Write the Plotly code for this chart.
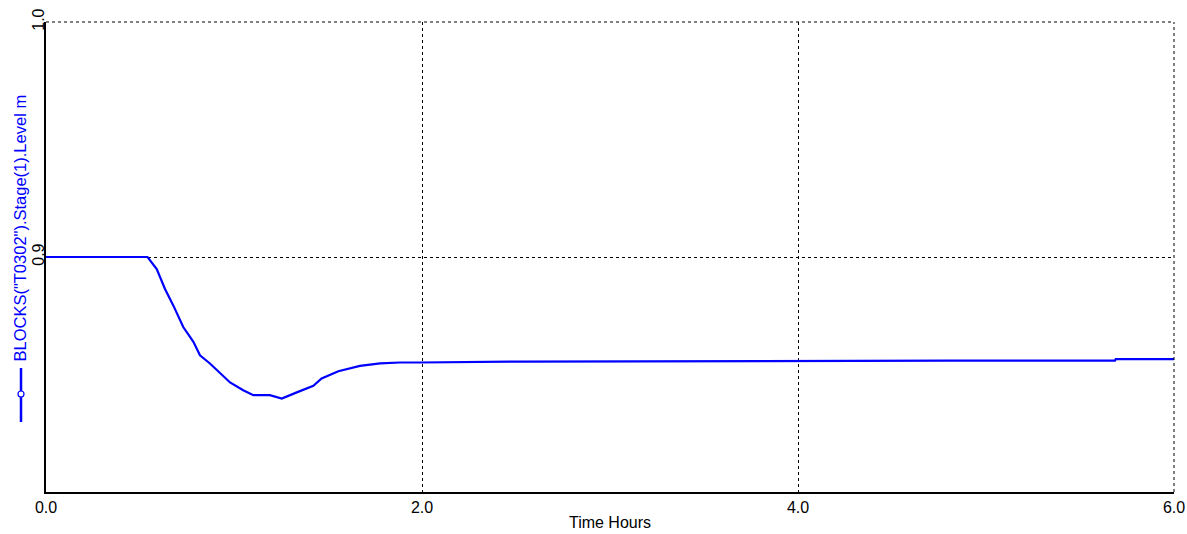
import plotly.graph_objects as go

# Data
time_hours = [0.0, 0.30, 0.540, 0.589, 0.633, 0.677, 0.730, 0.784, 0.819, 0.872, 0.926,
              0.979, 1.049, 1.103, 1.191, 1.254, 1.334, 1.422, 1.466, 1.555, 1.670,
              1.777, 1.883, 1.989, 2.521, 3.20, 4.011, 4.80, 5.686, 5.690, 6.0]
level_m = [0.9000, 0.9000, 0.9000, 0.8949, 0.8864, 0.8794, 0.8702, 0.8639, 0.8582, 0.8547, 0.8504,
           0.8466, 0.8433, 0.8412, 0.8412, 0.8398, 0.8424, 0.8452, 0.8483, 0.8514, 0.8537,
           0.8547, 0.8551, 0.8551, 0.8555, 0.8557, 0.8559, 0.8559, 0.8559, 0.8565, 0.8565]

x_ticks = [0.0, 2.0, 4.0, 6.0]
y_ticks = [0.9, 1.0]
y_title = 'BLOCKS("T0302").Stage(1).Level m'
x_title = "Time Hours"

FONT = "Liberation Sans, Arial, sans-serif"
DASH = "3px,3px"

fig = go.Figure()
fig.add_trace(go.Scatter(x=time_hours, y=level_m, mode="lines",
                         line=dict(color="#0000ff", width=2.2), showlegend=False,
                         hoverinfo="x+y"))

fig.update_layout(
    width=1187, height=534,
    margin=dict(l=46, r=13, t=22, b=42),
    paper_bgcolor="white", plot_bgcolor="white",
    font=dict(family=FONT, size=16, color="black"),
    showlegend=False,
)
fig.update_xaxes(
    range=[0, 6], tickvals=x_ticks, ticktext=[f"{v:.1f}" for v in x_ticks],
    showline=True, linecolor="black", linewidth=1.5,
    showgrid=True, gridcolor="black", griddash=DASH, gridwidth=1,
    zeroline=False, ticks="", ticklen=0, automargin=False,
    title=dict(text=x_title, font=dict(size=16), standoff=2),
    tickfont=dict(size=16),
)
fig.update_yaxes(
    range=[0.8, 1.0], tickvals=y_ticks, ticktext=[f"{v:.1f}" for v in y_ticks],
    tickangle=-90, automargin=False, ticklabelstandoff=-6,
    showline=True, linecolor="black", linewidth=1.5,
    showgrid=True, gridcolor="black", griddash=DASH, gridwidth=1,
    zeroline=False, ticks="", ticklen=0,
    tickfont=dict(size=16),
)

# dashed frame at top and right (grid lines at range ends)
fig.add_shape(type="line", xref="paper", yref="paper", x0=0, x1=1, y0=1, y1=1,
              line=dict(color="black", width=1, dash=DASH))
fig.add_shape(type="line", xref="paper", yref="paper", x0=1, x1=1, y0=0, y1=1,
              line=dict(color="black", width=1, dash=DASH))

# y title (blue, rotated) with legend-like symbol beneath
fig.add_annotation(text=y_title, xref="paper", yref="paper", x=0, xshift=-26,
                   xanchor="center", yanchor="middle",
                   y=0.5606, textangle=-90, showarrow=False,
                   font=dict(color="#0000ff", size=16.5, family=FONT))
fig.add_shape(type="line", xref="paper", yref="paper", xsizemode="pixel", xanchor=0,
              x0=-25, x1=-25, y0=0.1489, y1=0.2638,
              line=dict(color="#0000ff", width=2.5))
fig.add_shape(type="circle", xref="paper", yref="paper", xsizemode="pixel", ysizemode="pixel",
              xanchor=0, yanchor=0.2085, x0=-28, x1=-22, y0=-3, y1=3,
              fillcolor="white", line=dict(color="#0000ff", width=1.2))

fig.write_html("out.html", config={"displayModeBar": False},
               post_script="document.body.style.margin='0';document.body.style.overflow='hidden';")
